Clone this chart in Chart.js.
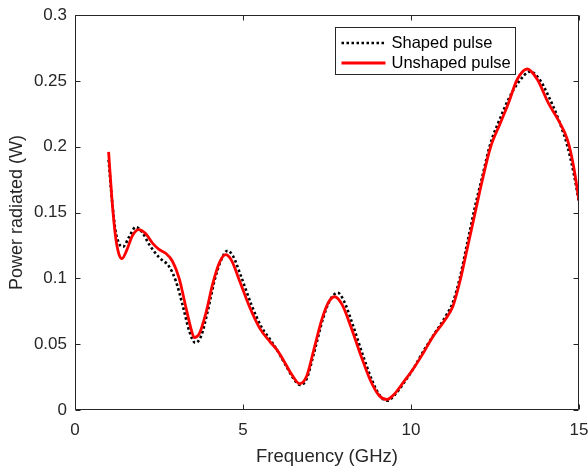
<!DOCTYPE html>
<html>
<head>
<meta charset="utf-8">
<script src="https://cdn.jsdelivr.net/npm/chart.js@4/dist/chart.umd.min.js"></script>
<style>
  html, body { margin: 0; padding: 0; background: #fff; }
  #wrap { width: 588px; height: 468px; }
</style>
</head>
<body>
<div id="wrap"><canvas id="c" width="588" height="468"></canvas></div>
<script>
// Radiated power vs frequency for shaped and unshaped excitation pulses
const shapedFreq = [1.0, 1.1, 1.2, 1.3, 1.43, 1.6, 1.81, 2.0, 2.2, 2.5, 2.8, 3.0, 3.2, 3.4, 3.58, 3.75, 3.95, 4.15, 4.35, 4.54, 4.7, 4.95, 5.25, 5.55, 5.85, 6.05, 6.25, 6.5, 6.7, 6.9, 7.1, 7.4, 7.6, 7.82, 8.0, 8.25, 8.55, 8.85, 9.1, 9.3, 9.5, 9.8, 10.06, 10.4, 10.7, 11.05, 11.25, 11.45, 11.66, 11.91, 12.1, 12.36, 12.66, 12.9, 13.2, 13.55, 13.8, 14.1, 14.4, 14.66, 14.84, 15.0];
const shapedPower = [0.190, 0.160, 0.137, 0.127, 0.124, 0.131, 0.139, 0.135, 0.126, 0.116, 0.109, 0.098, 0.080, 0.060, 0.051, 0.056, 0.075, 0.098, 0.114, 0.121, 0.117, 0.101, 0.080, 0.063, 0.052, 0.044, 0.035, 0.024, 0.019, 0.024, 0.042, 0.071, 0.084, 0.089, 0.083, 0.066, 0.043, 0.022, 0.010, 0.007, 0.011, 0.021, 0.031, 0.046, 0.058, 0.072, 0.082, 0.100, 0.125, 0.155, 0.175, 0.202, 0.222, 0.236, 0.249, 0.257, 0.252, 0.238, 0.220, 0.200, 0.180, 0.158];

const unshapedFreq = [1.0, 1.1, 1.2, 1.3, 1.4, 1.55, 1.7, 1.9, 2.1, 2.3, 2.5, 2.7, 2.9, 3.1, 3.3, 3.45, 3.55, 3.7, 3.9, 4.1, 4.3, 4.48, 4.65, 4.9, 5.2, 5.5, 5.8, 6.0, 6.2, 6.45, 6.69, 6.9, 7.1, 7.35, 7.55, 7.73, 7.95, 8.2, 8.5, 8.8, 9.05, 9.28, 9.5, 9.8, 10.06, 10.36, 10.66, 11.0, 11.25, 11.45, 11.66, 11.91, 12.1, 12.36, 12.66, 12.9, 13.16, 13.46, 13.76, 14.09, 14.39, 14.66, 14.84, 15.0];
const unshapedPower = [0.196, 0.160, 0.133, 0.119, 0.115, 0.122, 0.132, 0.137, 0.134, 0.127, 0.122, 0.119, 0.113, 0.100, 0.078, 0.062, 0.055, 0.058, 0.074, 0.096, 0.112, 0.118, 0.114, 0.098, 0.078, 0.062, 0.052, 0.046, 0.038, 0.027, 0.020, 0.026, 0.045, 0.069, 0.082, 0.086, 0.080, 0.064, 0.042, 0.022, 0.011, 0.008, 0.012, 0.022, 0.031, 0.043, 0.056, 0.068, 0.079, 0.097, 0.121, 0.150, 0.172, 0.199, 0.218, 0.233, 0.251, 0.259, 0.251, 0.233, 0.220, 0.205, 0.185, 0.159];

const xTicks = [0, 5, 10, 15];
const yTicks = [0, 0.05, 0.1, 0.15, 0.2, 0.25, 0.3];
const seriesNames = ['Shaped pulse', 'Unshaped pulse'];

const FONT = '"Liberation Sans", Arial, Helvetica, sans-serif';
const INK = '#262626';

const pts = (xs, ys) => xs.map((x, i) => ({ x, y: ys[i] }));

// Box around the axes, inward tick marks on all four sides, boxed legend
const axesBox = {
  id: 'axesBox',
  afterDatasetsDraw(chart) {
    const { ctx, chartArea: a, scales: { x, y } } = chart;
    const L = Math.round(a.left) + 0.5, R = Math.round(a.right) - 0.5;
    const T = Math.round(a.top) + 0.5, B = Math.round(a.bottom) - 0.5;
    ctx.save();
    ctx.strokeStyle = INK;
    ctx.lineWidth = 1;
    ctx.beginPath();
    ctx.rect(L, T, R - L, B - T);
    const tl = 5;
    xTicks.forEach(v => {
      const px = Math.round(x.getPixelForValue(v)) + 0.5;
      ctx.moveTo(px, B); ctx.lineTo(px, B - tl);
      ctx.moveTo(px, T); ctx.lineTo(px, T + tl);
    });
    yTicks.forEach(v => {
      const py = Math.round(y.getPixelForValue(v)) + 0.5;
      ctx.moveTo(L, py); ctx.lineTo(L + tl, py);
      ctx.moveTo(R, py); ctx.lineTo(R - tl, py);
    });
    ctx.stroke();

    // legend
    const bx = 335.5, by = 27.5, bw = 180, bh = 47;
    ctx.fillStyle = '#fff';
    ctx.fillRect(bx, by, bw, bh);
    ctx.strokeStyle = INK;
    ctx.lineWidth = 1;
    ctx.strokeRect(bx, by, bw, bh);
    const rows = [by + 15.5, by + 35.5];
    chart.data.datasets.forEach((ds, i) => {
      const ry = rows[i];
      ctx.save();
      ctx.strokeStyle = ds.borderColor;
      ctx.lineWidth = ds.borderWidth;
      ctx.setLineDash(ds.borderDash || []);
      ctx.lineCap = 'butt';
      ctx.beginPath();
      ctx.moveTo(bx + 6, ry);
      ctx.lineTo(bx + 50, ry);
      ctx.stroke();
      ctx.restore();
      ctx.fillStyle = '#000';
      ctx.font = '16.5px ' + FONT;
      ctx.textBaseline = 'middle';
      ctx.textAlign = 'left';
      ctx.fillText(ds.label, bx + 56, ry);
    });
    ctx.restore();
  }
};

new Chart(document.getElementById('c'), {
  type: 'line',
  data: {
    datasets: [
      {
        label: seriesNames[0],
        data: pts(shapedFreq, shapedPower),
        borderColor: '#000000',
        borderWidth: 2.6,
        borderDash: [2.5, 2.5],
        pointRadius: 0,
        cubicInterpolationMode: 'monotone',
        fill: false,
        order: 1
      },
      {
        label: seriesNames[1],
        data: pts(unshapedFreq, unshapedPower),
        borderColor: '#ff0000',
        borderWidth: 2.8,
        pointRadius: 0,
        cubicInterpolationMode: 'monotone',
        fill: false,
        order: 0
      }
    ]
  },
  options: {
    responsive: false,
    animation: false,
    devicePixelRatio: 1,
    layout: { padding: { top: 15, right: 9, left: 0, bottom: 0 } },
    plugins: { legend: { display: false }, tooltip: { enabled: false } },
    scales: {
      x: {
        type: 'linear',
        min: 0, max: 15,
        afterBuildTicks: s => { s.ticks = xTicks.map(v => ({ value: v })); },
        afterFit: s => { s.height = 58; s.paddingLeft = 0; s.paddingRight = 0; },
        grid: { display: false, drawTicks: false },
        border: { display: false },
        ticks: {
          color: INK,
          font: { family: FONT, size: 17 },
          padding: 10,
          maxRotation: 0,
          callback: v => String(v)
        },
        title: {
          display: true,
          text: 'Frequency (GHz)',
          color: INK,
          font: { family: FONT, size: 18.5 },
          padding: { top: 2, bottom: 0 }
        }
      },
      y: {
        type: 'linear',
        min: 0, max: 0.3,
        afterBuildTicks: s => { s.ticks = yTicks.map(v => ({ value: v })); },
        afterFit: s => { s.width = 75; s.paddingTop = 0; s.paddingBottom = 0; },
        grid: { display: false, drawTicks: false },
        border: { display: false },
        ticks: {
          color: INK,
          font: { family: FONT, size: 17 },
          padding: 8,
          callback: v => String(Math.round(v * 100) / 100)
        },
        title: {
          display: true,
          text: 'Power radiated (W)',
          color: INK,
          font: { family: FONT, size: 18 },
          padding: { top: 6, bottom: 0 }
        }
      }
    }
  },
  plugins: [axesBox]
});
</script>
</body>
</html>
